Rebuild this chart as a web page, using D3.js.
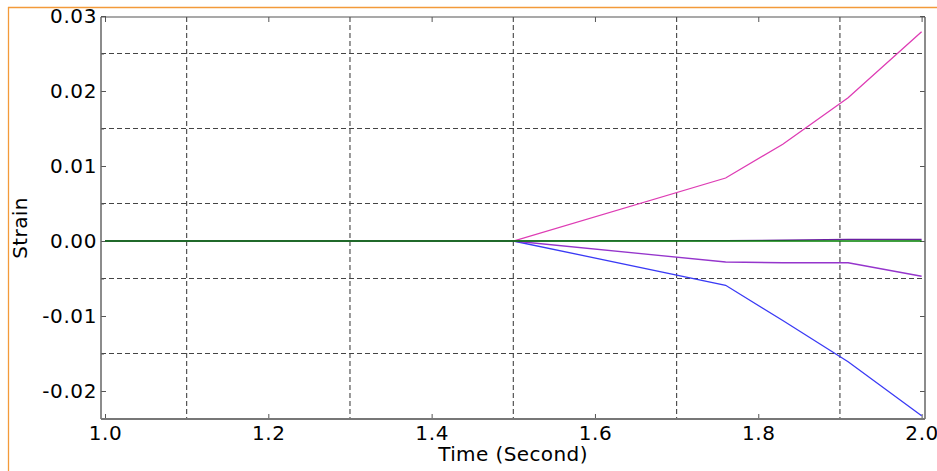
<!DOCTYPE html>
<html>
<head>
<meta charset="utf-8">
<script src="https://cdn.jsdelivr.net/npm/d3@7"></script>
<style>
  body { margin: 0; background: #fff; }
  svg { display: block; }
  text { font-family: "DejaVu Sans", Verdana, sans-serif; fill: #000; }
</style>
</head>
<body>
<div id="chart"></div>
<script>
// values
const times      = [1.0, 1.5, 1.76, 1.83, 1.91, 2.0];
const strainPink = [0, 0, 0.0084, 0.0129, 0.0191, 0.0279];
const strainViol = [0, 0, -0.0028, -0.0029, -0.0029, -0.0047];
const strainBlue = [0, 0, -0.0059, -0.0106, -0.0161, -0.0233];
const strainDark = [0, 0, 0.00005, 0.0001, 0.00022, 0.0002];
const strainGrn  = [0, 0, 0, 0, 0, 0];

const xTicks = [1.0, 1.2, 1.4, 1.6, 1.8, 2.0];
const yTicks = [0.03, 0.02, 0.01, 0.00, -0.01, -0.02];
const xGrid = [1.1, 1.3, 1.5, 1.7, 1.9];
const yGrid = [0.025, 0.015, 0.005, -0.005, -0.015];

const width = 937, height = 471;
const frame = { left: 101, right: 925, top: 17, bottom: 419 };

const svg = d3.select('#chart').append('svg')
    .attr('width', width)
    .attr('height', height);

// keep everything inside the orange border
svg.append('clipPath').attr('id', 'page')
  .append('rect').attr('x', 8).attr('y', 7).attr('width', width).attr('height', height);
const g = svg.append('g').attr('clip-path', 'url(#page)');

const x = d3.scaleLinear().domain([1.0, 2.0]).range([105, 921.6]);
const y = d3.scaleLinear().domain([-0.02, 0.03]).range([391, 16]);

// dashed grid
g.append('g').selectAll('line')
  .data(xGrid).enter().append('line')
    .attr('x1', d => x(d)).attr('x2', d => x(d))
    .attr('y1', frame.top).attr('y2', frame.bottom)
    .attr('stroke', '#444').attr('stroke-width', 1.1)
    .attr('stroke-dasharray', '5,3');
g.append('g').selectAll('line')
  .data(yGrid).enter().append('line')
    .attr('x1', frame.left).attr('x2', frame.right)
    .attr('y1', d => y(d)).attr('y2', d => y(d))
    .attr('stroke', '#444').attr('stroke-width', 1.1)
    .attr('stroke-dasharray', '5,3');

// axes (ticks point inwards); plain hyphen for negatives like the original
const fmtY = d => d3.format('.2f')(d).replace('\u2212', '-');
const yAxis = g.append('g')
    .attr('transform', 'translate(' + frame.left + ',0)')
    .call(d3.axisLeft(y).tickValues(yTicks).tickSize(-5).tickPadding(5).tickFormat(fmtY));
const xAxis = g.append('g')
    .attr('transform', 'translate(0,' + frame.bottom + ')')
    .call(d3.axisBottom(x).tickValues(xTicks).tickSize(-5).tickPadding(7).tickFormat(d3.format('.1f')));
g.append('g')
    .attr('transform', 'translate(' + frame.right + ',0)')
    .call(d3.axisRight(y).tickValues(yTicks).tickSize(-5).tickFormat(''));
g.append('g')
    .attr('transform', 'translate(0,' + frame.top + ')')
    .call(d3.axisTop(x).tickValues(xTicks).tickSize(-5).tickFormat(''));
// minor ticks on the left
g.append('g')
    .attr('transform', 'translate(' + frame.left + ',0)')
    .call(d3.axisLeft(y).tickValues(yGrid).tickSize(-3).tickFormat(''));

g.selectAll('.domain').remove();
g.selectAll('.tick line').attr('stroke', '#555');
g.selectAll('.tick text')
    .style('font-size', '20px')
    .style('letter-spacing', '0.6px')
    .style('font-family', '"DejaVu Sans", Verdana, sans-serif');
yAxis.selectAll('.tick text').attr('x', -4);

// frame
g.append('line').attr('x1', frame.left).attr('x2', frame.left).attr('y1', frame.top).attr('y2', frame.bottom)
  .attr('stroke', '#666').attr('stroke-width', 1.5);
g.append('line').attr('x1', frame.right).attr('x2', frame.right).attr('y1', frame.top).attr('y2', frame.bottom)
  .attr('stroke', '#666').attr('stroke-width', 1.5);
g.append('line').attr('x1', frame.left).attr('x2', frame.right).attr('y1', frame.top).attr('y2', frame.top)
  .attr('stroke', '#555').attr('stroke-width', 1.2);
g.append('line').attr('x1', frame.left).attr('x2', frame.right).attr('y1', frame.bottom).attr('y2', frame.bottom)
  .attr('stroke', '#777').attr('stroke-width', 2);

// series
const series = [
  { vals: strainBlue, color: '#3a3af5' },
  { vals: strainViol, color: '#9535cc' },
  { vals: strainPink, color: '#de3cb4' },
  { vals: strainDark, color: '#6a1fa0' },
  { vals: strainGrn,  color: '#008000' }
];
const line = d3.line()
    .x(d => x(d[0]))
    .y(d => y(d[1]));
g.append('g').selectAll('path')
  .data(series).enter().append('path')
    .attr('d', s => line(times.map((t, i) => [t, s.vals[i]])))
    .attr('fill', 'none')
    .attr('stroke', s => s.color)
    .attr('stroke-width', 1.3);

// axis titles
g.append('text')
    .attr('x', 513).attr('y', 461)
    .attr('text-anchor', 'middle')
    .style('font-size', '20px')
    .style('letter-spacing', '0.4px')
    .text('Time (Second)');
g.append('text')
    .attr('transform', 'translate(27,228) rotate(-90)')
    .attr('text-anchor', 'middle')
    .style('font-size', '20px')
    .style('letter-spacing', '0.4px')
    .text('Strain');

// orange page border
svg.append('line').attr('x1', 8).attr('x2', width).attr('y1', 7.5).attr('y2', 7.5)
  .attr('stroke', '#f39a3a').attr('stroke-width', 1.3);
svg.append('line').attr('x1', 8.5).attr('x2', 8.5).attr('y1', 7).attr('y2', height)
  .attr('stroke', '#f39a3a').attr('stroke-width', 1.3);
</script>
</body>
</html>
